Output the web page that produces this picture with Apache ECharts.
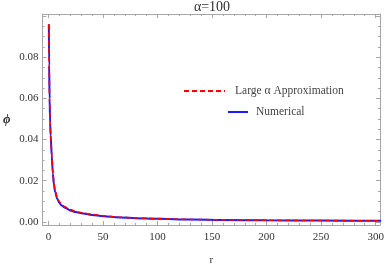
<!DOCTYPE html>
<html>
<head>
<meta charset="utf-8">
<script src="https://cdn.jsdelivr.net/npm/echarts@6/dist/echarts.min.js"></script>
<style>html,body{margin:0;padding:0;background:#fff}#c{width:387px;height:266px}</style>
</head>
<body>
<div id="c"></div>
<script>
const titleText = 'α=100';
const xName = 'r';
const yName = 'ϕ';
const seriesNames = ['Large α Approximation', 'Numerical'];
const rValues = [0.3, 0.6, 1.0, 1.5, 2, 3, 4, 5, 6, 8, 10, 12, 15, 20, 25, 30, 40, 50, 65, 80, 100, 130, 160, 200, 250, 300, 305];
const phiNumerical = [0.096, 0.076, 0.060, 0.048, 0.042, 0.032, 0.0235, 0.018, 0.0148, 0.0112, 0.0092, 0.0080, 0.0069, 0.0056, 0.0048, 0.0042, 0.0034, 0.0028, 0.0022, 0.0018, 0.0015, 0.00115, 0.00095, 0.00078, 0.00064, 0.00054, 0.00053];
const phiApprox = [0.096, 0.076, 0.060, 0.048, 0.042, 0.0325, 0.024, 0.0186, 0.0154, 0.0118, 0.0098, 0.0085, 0.0073, 0.0060, 0.0051, 0.0045, 0.0036, 0.0030, 0.0023, 0.0019, 0.0016, 0.0012, 0.0010, 0.0008, 0.00066, 0.00056, 0.00055];
const xMajor = [0, 50, 100, 150, 200, 250, 300];
const xMinor = [0,10,20,30,40,50,60,70,80,90,100,110,120,130,140,150,160,170,180,190,200,210,220,230,240,250,260,270,280,290,300];
const yMajor = [0, 0.02, 0.04, 0.06, 0.08, 0.1];
const yMinor = [0,0.005,0.01,0.015,0.02,0.025,0.03,0.035,0.04,0.045,0.05,0.055,0.06,0.065,0.07,0.075,0.08,0.085,0.09,0.095,0.1];

const XMIN = -5.5, XMAX = 304, YMIN = -0.0015, YMAX = 0.101;
const frameColor = '#a6a6a6';
const font = 'Liberation Serif';

function xAx(pos, ticks, len, labels, line) {
  return {
    type: 'value', position: pos, min: XMIN, max: XMAX,
    axisLine: {show: line, onZero: false, lineStyle: {color: frameColor, width: 1}},
    axisTick: {show: true, inside: true, length: len, customValues: ticks, lineStyle: {color: frameColor}},
    axisLabel: {show: labels, customValues: xMajor, margin: 7, color: '#333', fontFamily: font, fontSize: 11},
    splitLine: {show: false},
    name: labels ? xName : '', nameLocation: 'middle', nameGap: 30,
    nameTextStyle: {fontFamily: font, fontSize: 11, color: '#333'}
  };
}
function yAx(pos, ticks, len, labels, line) {
  return {
    type: 'value', position: pos, min: YMIN, max: YMAX,
    axisLine: {show: line, onZero: false, lineStyle: {color: frameColor, width: 1}},
    axisTick: {show: true, inside: true, length: len, customValues: ticks, lineStyle: {color: frameColor}},
    axisLabel: {show: labels, customValues: yMajor.slice(0, 5), margin: 4, color: '#333', fontFamily: font, fontSize: 11,
      formatter: v => v.toFixed(2)},
    splitLine: {show: false},
    name: labels ? yName : '', nameLocation: 'middle', nameGap: 32, nameRotate: 0,
    nameTextStyle: {fontFamily: font, fontSize: 13, fontStyle: 'italic', fontWeight: 'bold', color: '#333'}
  };
}

const chart = echarts.init(document.getElementById('c'), null, {renderer: 'canvas'});
chart.setOption({
  animation: false,
  backgroundColor: '#fff',
  title: {text: titleText, left: 212, top: 0, padding: 0, textAlign: 'center',
    textStyle: {fontFamily: font, fontSize: 14, fontWeight: 'normal', color: '#333'}},
  grid: {left: 42.5, right: 7, top: 14, bottom: 41, outerBoundsMode: 'none', containLabel: false},
  legend: [
    {data: [seriesNames[0]], left: 178, top: 80, itemWidth: 41, itemHeight: 10,
      itemStyle: {opacity: 0}, textStyle: {fontFamily: font, fontSize: 11.5, color: '#444', padding: [0, 0, 0, 5]}},
    {data: [seriesNames[1]], left: 222, top: 101, itemWidth: 20, itemHeight: 10,
      itemStyle: {opacity: 0}, textStyle: {fontFamily: font, fontSize: 11.5, color: '#444', padding: [0, 0, 0, 3]}}
  ],
  xAxis: [xAx('bottom', xMajor, 4, true, true), xAx('bottom', xMinor, 2, false, false),
          xAx('top', xMajor, 4, false, true), xAx('top', xMinor, 2, false, false)],
  yAxis: [yAx('left', yMajor, 4, true, true), yAx('left', yMinor, 2, false, false),
          yAx('right', yMajor, 4, false, true), yAx('right', yMinor, 2, false, false)],
  series: [
    {name: seriesNames[1], type: 'line', symbol: 'none', smooth: 0.3, smoothMonotone: 'x',
      data: rValues.map((r, i) => [r, phiNumerical[i]]), z: 2, clip: true,
      lineStyle: {color: '#1a1aff', width: 2}, itemStyle: {color: '#1a1aff'}},
    {name: seriesNames[0], type: 'line', symbol: 'none', smooth: 0.3, smoothMonotone: 'x',
      data: rValues.map((r, i) => [r, phiApprox[i]]), z: 3, clip: true,
      lineStyle: {color: '#ff0000', width: 1.6, type: [5, 3]}, itemStyle: {color: '#ff0000'}}
  ]
});
</script>
</body>
</html>
